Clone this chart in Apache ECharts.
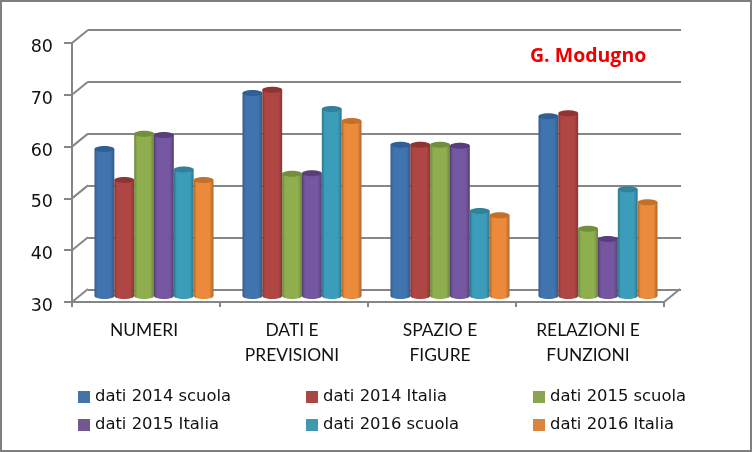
<!DOCTYPE html>
<html><head><meta charset="utf-8">
<script src="https://cdn.jsdelivr.net/npm/echarts@6/dist/echarts.min.js"></script>
<style>html,body{margin:0;padding:0;background:#fff}#c{width:752px;height:452px}</style>
</head><body><div id="c"></div>
<script>
const categories = ['NUMERI', 'DATI E\nPREVISIONI', 'SPAZIO E\nFIGURE', 'RELAZIONI E\nFUNZIONI'];
const yTicks = [30, 40, 50, 60, 70, 80];
const dati2014Scuola = [58.4, 69.2, 59.2, 64.7];
const dati2014Italia = [52.4, 69.8, 59.2, 65.3];
const dati2015Scuola = [61.3, 53.6, 59.2, 43.0];
const dati2015Italia = [61.1, 53.7, 59.0, 41.0];
const dati2016Scuola = [54.4, 66.1, 46.4, 50.6];
const dati2016Italia = [52.4, 63.8, 45.6, 48.1];
const names = ['dati 2014 scuola', 'dati 2014 Italia', 'dati 2015 scuola', 'dati 2015 Italia', 'dati 2016 scuola', 'dati 2016 Italia'];
const values = [dati2014Scuola, dati2014Italia, dati2015Scuola, dati2015Italia, dati2016Scuola, dati2016Italia];
const colors = ['#4573A7', '#AA4643', '#89A54E', '#71588F', '#4198AF', '#DB843D'];
const darks  = ['#2F5F96', '#8F3432', '#728F3C', '#583F7C', '#2F8299', '#C4702B'];
const edges  = ['#315A8A', '#863634', '#6A863B', '#553F70', '#2F7589', '#AE672D'];
const lights = ['#3F74AE', '#B04643', '#8FAE4E', '#7556A0', '#3C9DBB', '#EA8A3A'];

const gridColor = '#868686';
const depthX = 16, depthY = 13;

function cylinder(idx) {
  return function (params, api) {
    const c = api.coord([api.value(0), api.value(1)]);
    const base = api.coord([api.value(0), 30]);
    const catW = api.size([1, 0])[0];
    const w = catW * 0.134;
    const x = c[0] - 3 * w + idx * w;
    const rx = w / 2, ry = 3;
    const grad = new echarts.graphic.LinearGradient(0, 0, 1, 0, [
      { offset: 0, color: edges[idx] },
      { offset: 0.15, color: lights[idx] },
      { offset: 0.8, color: lights[idx] },
      { offset: 1, color: edges[idx] }
    ]);
    return {
      type: 'group',
      children: [
        { type: 'ellipse', shape: { cx: x + rx, cy: base[1], rx, ry }, style: { fill: grad } },
        { type: 'rect', shape: { x, y: c[1], width: w, height: base[1] - c[1] }, style: { fill: grad } },
        { type: 'ellipse', shape: { cx: x + rx, cy: c[1], rx, ry }, style: { fill: darks[idx] } }
      ]
    };
  };
}

const wallLines = {
  type: 'custom', xAxisIndex: 0, yAxisIndex: 0, silent: true, z: 1, legendHoverLink: false,
  data: yTicks.map(t => [0, t]),
  renderItem: function (params, api) {
    const p = api.coord([0, api.value(1)]);
    const x0 = params.coordSys.x;
    const y0 = p[1];
    return { type: 'line', shape: { x1: x0, y1: y0, x2: x0 + depthX, y2: y0 - depthY }, style: { stroke: gridColor, lineWidth: 2 } };
  }
};
const floorEdge = {
  type: 'custom', xAxisIndex: 0, yAxisIndex: 0, silent: true, z: 1,
  data: [[0, 30]],
  renderItem: function (params, api) {
    const y0 = api.coord([0, 30])[1];
    const x0 = params.coordSys.x + params.coordSys.width;
    return { type: 'line', shape: { x1: x0, y1: y0, x2: x0 + depthX, y2: y0 - depthY }, style: { stroke: gridColor, lineWidth: 2 } };
  }
};

const legendBase = {
  orient: 'vertical', top: 382, itemWidth: 12, itemHeight: 12, itemGap: 8, icon: 'rect', selectedMode: false,
  textStyle: { fontFamily: 'DejaVu Sans', fontSize: 16.4, color: '#111', height: 20, lineHeight: 20 }
};

const option = {
  animation: false,
  backgroundColor: '#fff',
  title: {
    text: 'G. Modugno', left: 525, top: 41,
    textStyle: { fontFamily: 'Open Sans', fontWeight: 'bold', fontSize: 19.5, color: '#EE0000' }
  },
  graphic: [{ type: 'rect', shape: { x: 1, y: 1, width: 750, height: 450 }, style: { fill: null, stroke: '#7F7F7F', lineWidth: 2 }, silent: true, z: -1 }],
  legend: [
    Object.assign({}, legendBase, { left: 73, data: [names[0], names[3]] }),
    Object.assign({}, legendBase, { left: 301, data: [names[1], names[4]] }),
    Object.assign({}, legendBase, { left: 528, data: [names[2], names[5]] })
  ],
  grid: [
    { left: 72, top: 43, width: 592, height: 259 },
    { left: 88, top: 30, width: 593, height: 260 },
    { left: 80, top: 37, width: 592, height: 259 }
  ],
  xAxis: [
    { type: 'category', gridIndex: 0, data: categories, boundaryGap: true,
      axisLine: { lineStyle: { color: gridColor, width: 2 } },
      axisTick: { show: true, length: 5, alignWithLabel: false, lineStyle: { color: gridColor, width: 2 } },
      axisLabel: { margin: 16, fontFamily: 'Lato', fontSize: 17.4, color: '#111', lineHeight: 25, interval: 0, padding: [0, 4, 0, 0] } },
    { type: 'category', gridIndex: 1, data: categories, show: false },
    { type: 'category', gridIndex: 2, data: categories, show: false }
  ],
  yAxis: [
    { type: 'value', gridIndex: 0, min: 30, max: 80, interval: 10,
      axisLine: { show: true, lineStyle: { color: gridColor, width: 2 } },
      axisTick: { show: true, length: 8, lineStyle: { color: gridColor, width: 2 } },
      splitLine: { show: false },
      axisLabel: { margin: 19, fontFamily: 'DejaVu Sans', fontSize: 17.5, color: '#111', verticalAlign: 'top', lineHeight: 9 } },
    { type: 'value', gridIndex: 1, min: 30, max: 80, interval: 10,
      axisLine: { show: false }, axisTick: { show: false }, axisLabel: { show: false },
      splitLine: { show: true, lineStyle: { color: gridColor, width: 2 } } },
    { type: 'value', gridIndex: 2, min: 30, max: 80, interval: 10, show: false, splitLine: { show: false } }
  ],
  series: [wallLines, floorEdge].concat(values.map((vals, i) => ({
    name: names[i], type: 'custom', xAxisIndex: 2, yAxisIndex: 2, z: 3 + i,
    itemStyle: { color: colors[i] },
    encode: { x: 0, y: 1 },
    data: vals.map((v, k) => [k, v]),
    renderItem: cylinder(i)
  })))
};
echarts.init(document.getElementById('c'), null, { renderer: 'canvas' }).setOption(option);
</script></body></html>
